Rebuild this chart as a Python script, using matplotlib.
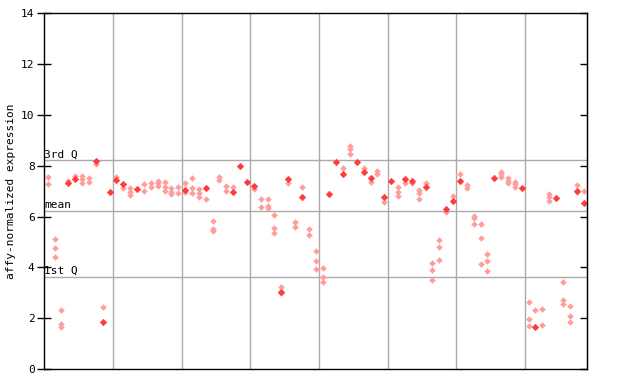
import matplotlib
matplotlib.use("Agg")
import matplotlib.pyplot as plt

# replicate values per sample (light diamonds)
replicates = [
    [7.54, 7.28], [5.10, 4.75, 4.40], [2.31, 1.76, 1.64], [7.38], [7.58],
    [7.60, 7.47, 7.33], [7.50, 7.37], [8.07], [2.44], [],
    [7.54], [7.14], [7.14, 6.98, 6.84], [], [7.27, 7.00],
    [7.31, 7.18], [7.41, 7.31, 7.20], [7.37, 7.17, 7.02], [7.11, 6.98, 6.88], [7.17, 6.91],
    [7.31, 6.98], [7.50, 7.11, 6.91], [7.07, 6.91, 6.76], [6.68], [5.82, 5.50, 5.43],
    [7.54, 7.44], [7.20, 7.02], [7.15], [], [],
    [7.07], [6.68, 6.39], [6.68, 6.43, 6.35], [6.05, 5.54, 5.36], [3.24, 2.98],
    [7.31], [5.80, 5.60], [7.15], [5.50, 5.29], [4.63, 4.24, 3.92],
    [3.96, 3.61, 3.41], [], [], [7.90], [8.78, 8.64, 8.45],
    [], [7.90], [7.37], [7.79, 7.66], [6.57],
    [], [7.18, 6.95, 6.82], [7.31], [7.31], [7.04, 6.91, 6.68],
    [7.33], [4.16, 3.88, 3.49], [5.06, 4.79, 4.28], [6.17], [6.81],
    [7.66], [7.24, 7.11], [6.02, 5.93, 5.69], [5.69, 5.14, 4.12], [4.51, 4.24, 3.84],
    [], [7.76, 7.66, 7.54], [7.50, 7.41, 7.31], [7.37, 7.27, 7.15], [],
    [2.62, 1.96, 1.69], [2.31], [2.35, 1.72], [6.89, 6.76, 6.62], [],
    [3.41, 2.70, 2.55], [2.47, 2.09, 1.84], [7.24, 6.98], [7.00],
]

# solid diamonds (None = no solid point for that sample)
solid = [
    None, None, None, 7.31, 7.46, None, None, 8.20, 1.85, 6.98,
    7.42, 7.27, None, 7.08, None, None, None, None, None, None,
    7.04, None, None, 7.14, None, None, None, 6.97, 7.99, 7.37,
    7.22, None, None, None, 3.04, 7.46, None, 6.78, None, None,
    None, 6.89, 8.16, 7.67, None, 8.13, 7.76, 7.50, None, 6.78,
    7.41, None, 7.46, 7.41, None, 7.17, None, None, 6.30, 6.62,
    7.40, None, None, None, None, 7.53, None, None, None, 7.11,
    None, 1.65, None, None, 6.72, None, None, 7.02, 6.52,
]

q_labels = ["3rd Q", "mean", "1st Q"]
q_values = [8.21, 6.22, 3.62]
y_ticks = [0, 2, 4, 6, 8, 10, 12, 14]

mono = "DejaVu Sans Mono"
fig = plt.figure(figsize=(6.4, 3.84), dpi=100)
ax = fig.add_axes([0.0692, 0.039, 0.848, 0.9265])

n = len(replicates)
for g in range(10, n, 10):
    ax.axvline(g, color="#aaaaaa", lw=1, zorder=1)
for lab, v in zip(q_labels, q_values):
    ax.axhline(v, color="#aaaaaa", lw=1, zorder=1)
    ax.text(0.0, v + 0.04, lab, family=mono, fontsize=8, ha="left", va="bottom", zorder=3)

hx, hy = [], []
for i, vals in enumerate(replicates):
    for v in vals:
        hx.append(i + 0.5)
        hy.append(v)
ax.scatter(hx, hy, marker="D", s=11, color="#ff9c9c", linewidths=0, zorder=2)

sx = [i + 0.5 for i, v in enumerate(solid) if v is not None]
sy = [v for v in solid if v is not None]
ax.scatter(sx, sy, marker="D", s=14, color="#ff3c3c", linewidths=0, zorder=2)

ax.set_xlim(0, n)
ax.set_ylim(0, 14)
ax.set_xticks([])
ax.set_yticks(y_ticks)
ax.set_yticklabels([str(t) for t in y_ticks], family=mono, fontsize=8)
ax.tick_params(axis="y", direction="inout", length=10, width=1, pad=2)
for s in ax.spines.values():
    s.set_linewidth(1)
ax.set_ylabel("affy-normalized expression", family=mono, fontsize=8, labelpad=4)

# right side: inward ticks only
sec = ax.secondary_yaxis("right")
sec.set_yticks(y_ticks)
sec.set_yticklabels([])
sec.tick_params(direction="in", length=5, width=1)

fig.savefig("out.png", dpi=100)
